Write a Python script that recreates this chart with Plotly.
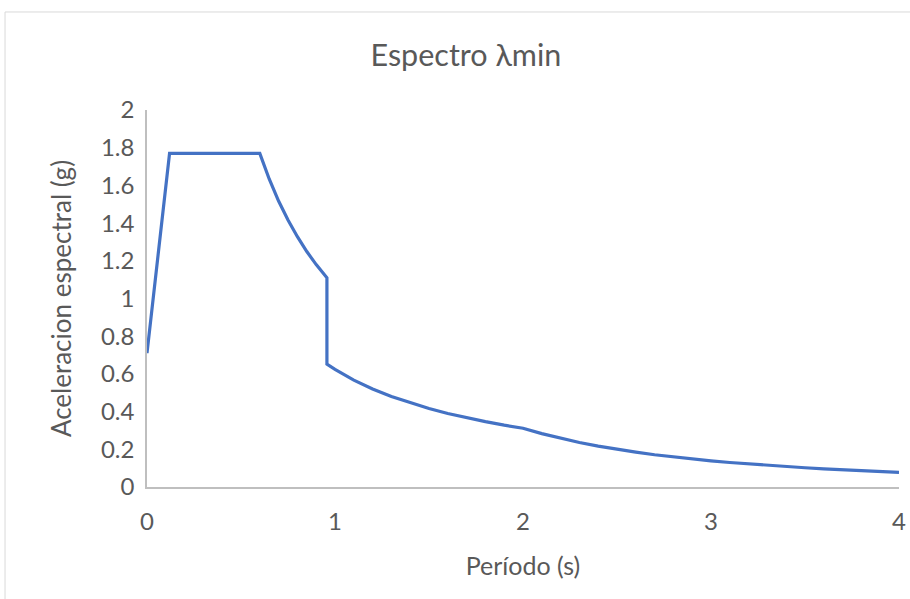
import plotly.graph_objects as go

periodo = [0, 0.12, 0.6, 0.65, 0.7, 0.75, 0.8, 0.85, 0.9, 0.957, 0.957, 1.0, 1.1, 1.2, 1.3,
           1.4, 1.5, 1.6, 1.7, 1.8, 1.9, 2.0, 2.1, 2.2, 2.3, 2.4, 2.5, 2.6, 2.7, 2.8, 2.9,
           3.0, 3.1, 3.2, 3.3, 3.4, 3.5, 3.6, 3.7, 3.8, 3.9, 4.0]
aceleracion = [0.71, 1.77, 1.77, 1.634, 1.517, 1.416, 1.328, 1.249, 1.18, 1.11, 0.652,
               0.624, 0.567, 0.52, 0.48, 0.446, 0.416, 0.39, 0.367, 0.347, 0.328, 0.312,
               0.283, 0.258, 0.236, 0.217, 0.2, 0.185, 0.171, 0.159, 0.149, 0.139, 0.130,
               0.122, 0.115, 0.108, 0.102, 0.096, 0.091, 0.087, 0.082, 0.078]
x_ticks = [0, 1, 2, 3, 4]
y_ticks = [0, 0.2, 0.4, 0.6, 0.8, 1, 1.2, 1.4, 1.6, 1.8, 2]
y_tick_labels = ["0", "0.2", "0.4", "0.6", "0.8", "1", "1.2", "1.4", "1.6", "1.8", "2"]

FONT = "Lato, 'Open Sans', sans-serif"
GRAY = "#595959"

fig = go.Figure()
fig.add_trace(go.Scatter(x=periodo, y=aceleracion, mode="lines",
                         line=dict(color="#4472C4", width=3.2), showlegend=False))

fig.update_layout(
    width=910, height=599,
    margin=dict(l=147, r=11, t=110, b=112, autoexpand=False),
    paper_bgcolor="white", plot_bgcolor="white",
    font=dict(family=FONT, color=GRAY, size=24),
    title=dict(text="Espectro λmin", xref="container", x=0.512, xanchor="center",
               y=0.908, yanchor="middle",
               font=dict(size=30.5, color=GRAY, family=FONT)),
    xaxis=dict(range=[0, 4], tickvals=x_ticks, ticks="outside", ticklen=12,
               tickcolor="rgba(0,0,0,0)", showgrid=False, zeroline=False,
               showline=True, linecolor="#bfbfbf", linewidth=1.5, automargin=False,
               tickfont=dict(size=24, color=GRAY),
               title=dict(text="Período (s)", font=dict(size=25, color=GRAY), standoff=24)),
    yaxis=dict(range=[0, 2], tickvals=y_ticks, ticktext=y_tick_labels, ticks="outside",
               ticklen=6, tickcolor="rgba(0,0,0,0)", automargin=False,
               showgrid=False, zeroline=False, showline=True, linecolor="#bfbfbf",
               linewidth=1.5, tickfont=dict(size=24, color=GRAY),
               title=dict(text="Aceleracion espectral (g)", font=dict(size=26, color=GRAY),
                          standoff=22)),
    shapes=[dict(type="rect", xref="paper", yref="paper",
                 x0=-0.1888, x1=1.2, y0=-0.6, y1=1.26,
                 line=dict(color="#d9d9d9", width=1), layer="below")],
)

fig.write_html("out.html", config={"displayModeBar": False, "responsive": False},
               post_script="document.body.style.margin='0px';"
                           "document.body.style.overflow='hidden';"
                           "document.documentElement.style.overflow='hidden';")
